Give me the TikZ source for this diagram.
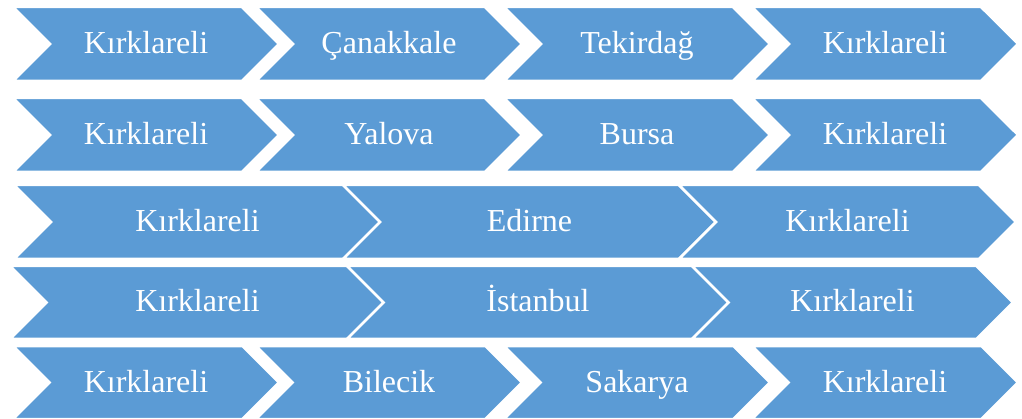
\documentclass[tikz,border=0pt]{standalone}
\usepackage{fontspec}
\usepackage{tikz}
\usetikzlibrary{shapes.symbols}
\newfontfamily\cityfont{Liberation Serif}
\definecolor{chevblue}{HTML}{5B9BD5}
\tikzset{
  chev/.style ={signal, signal from=west, signal to=east, signal pointer angle=90,
                fill=chevblue, draw=white, line width=2.5pt, text=white,
                inner sep=0pt, outer sep=0pt, minimum height=74pt,
                text height=28pt, text depth=9pt,
                font=\cityfont\fontsize{32pt}{38pt}\selectfont},
}

\begin{document}
\begin{tikzpicture}[x=1pt, y=-1pt]
  \useasboundingbox (0,0) rectangle (1022,419);
  % row 1
  \node[chev, minimum width=266pt] (a1) at (146,44) {Kırklareli};
  \node[chev, minimum width=266pt] (a2) at (389,44) {Çanakkale};
  \node[chev, minimum width=266pt] (a3) at (637,44) {Tekirdağ};
  \node[chev, minimum width=266pt] (a4) at (885,44) {Kırklareli};
  % row 2
  \node[chev, minimum width=266pt] (b1) at (146,135) {Kırklareli};
  \node[chev, minimum width=266pt] (b2) at (389,135) {Yalova};
  \node[chev, minimum width=266pt] (b3) at (637,135) {Bursa};
  \node[chev, minimum width=266pt] (b4) at (885,135) {Kırklareli};
  % row 3
  \node[chev, minimum width=367pt] (c1) at (197.5,222) {Kırklareli};
  \node[chev, minimum width=373pt] (c2) at (529.5,222) {Edirne};
  \node[chev, minimum width=337pt] (c3) at (847.5,222) {Kırklareli};
  % row 4
  \node[chev, minimum width=375pt, minimum height=73pt] (d1) at (197.5,302.5) {Kırklareli};
  \node[chev, minimum width=382pt, minimum height=73pt] (d2) at (538,302.5) {İstanbul};
  \node[chev, minimum width=321pt, minimum height=73pt] (d3) at (852.5,302.5) {Kırklareli};
  % row 5
  \node[chev, minimum width=266pt, minimum height=73pt] (e1) at (146,382.5) {Kırklareli};
  \node[chev, minimum width=266pt, minimum height=73pt] (e2) at (389,382.5) {Bilecik};
  \node[chev, minimum width=266pt, minimum height=73pt] (e3) at (637,382.5) {Sakarya};
  \node[chev, minimum width=266pt, minimum height=73pt] (e4) at (885,382.5) {Kırklareli};
\end{tikzpicture}
\end{document}
